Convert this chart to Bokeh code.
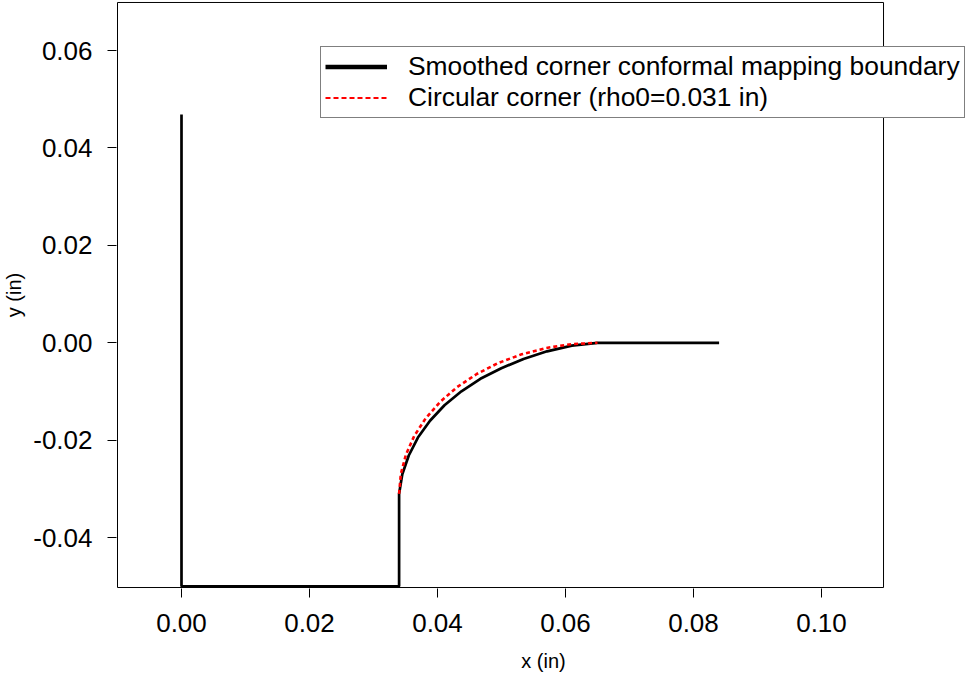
from bokeh.plotting import figure
from bokeh.models import Range1d, FixedTicker, Legend, LegendItem
from bokeh.embed import file_html
from bokeh.resources import INLINE

# Smoothed corner conformal mapping boundary (x, y in inches)
boundary_x = [0.0, 0.0, 0.034, 0.034, 0.03450, 0.03551, 0.03694, 0.03883, 0.04109,
              0.04374, 0.04670, 0.04997, 0.05344, 0.05712, 0.06098, 0.065, 0.084]
boundary_y = [0.0469, -0.05, -0.05, -0.031, -0.02699, -0.02314, -0.01945, -0.01601,
              -0.01282, -0.00995, -0.00739, -0.00522, -0.00331, -0.00175, -0.00058, 0.0, 0.0]

# Circular corner (rho0 = 0.031 in)
circle_x = [0.03400, 0.03427, 0.03506, 0.03636, 0.03815, 0.04041, 0.04308,
            0.04613, 0.04950, 0.05314, 0.05698, 0.06095, 0.06500]
circle_y = [-0.03100, -0.02695, -0.02298, -0.01914, -0.01550, -0.01213, -0.00908,
            -0.00641, -0.00415, -0.00236, -0.00106, -0.00027, 0.00000]

x_ticks = [0.0, 0.02, 0.04, 0.06, 0.08, 0.10]
x_tick_labels = ["0.00", "0.02", "0.04", "0.06", "0.08", "0.10"]
y_ticks = [-0.04, -0.02, 0.0, 0.02, 0.04, 0.06]
y_tick_labels = ["-0.04", "-0.02", "0.00", "0.02", "0.04", "0.06"]

# plot box limits (data units)
box_x = [-0.01, 0.10969]
box_y = [-0.05025, 0.06988]

label_black = "Smoothed corner conformal mapping boundary"
label_red = "Circular corner (rho0=0.031 in)"

FONT = "Liberation Sans"

p = figure(width=972, height=676, output_backend="svg", toolbar_location=None,
           x_range=Range1d(-0.0101563, 0.1232813), y_range=Range1d(-0.0504517, 0.0700821),
           min_border_left=116, min_border_right=2, min_border_top=1,
           min_border_bottom=88)
p.grid.visible = False
p.outline_line_color = None
p.background_fill_color = "white"
p.border_fill_color = "white"

# box around the plotting region
p.line([box_x[0], box_x[1], box_x[1], box_x[0], box_x[0]],
       [box_y[0], box_y[0], box_y[1], box_y[1], box_y[0]],
       line_color="black", line_width=1)

p.line(boundary_x, boundary_y, line_color="black", line_width=2.7)
p.line(circle_x, circle_y, line_color="red", line_width=2.6, line_dash="4 3")

# legend-only glyphs (placed outside the visible ranges)
leg_black = p.line([1.0, 2.0], [1.0, 1.0], line_color="black", line_width=4.5)
leg_red = p.line([1.0, 2.0], [1.0, 1.0], line_color="red", line_width=2, line_dash="5 3")

for ax, ticks, labels in ((p.xaxis[0], x_ticks, x_tick_labels), (p.yaxis[0], y_ticks, y_tick_labels)):
    ax.ticker = FixedTicker(ticks=ticks)
    ax.major_label_overrides = {t: l for t, l in zip(ticks, labels)}
    ax.axis_line_color = None
    ax.major_tick_line_color = "black"
    ax.major_tick_out = 9
    ax.major_tick_in = 0
    ax.minor_tick_line_color = None
    ax.major_label_text_font = FONT
    ax.major_label_text_font_size = "26px"
    ax.major_label_text_color = "black"
    ax.axis_label_text_font = FONT
    ax.axis_label_text_font_size = "20px"
    ax.axis_label_text_font_style = "normal"
    ax.axis_label_text_color = "black"

p.xaxis.axis_label = "x (in)"
p.yaxis.axis_label = "y (in)"
p.xaxis.major_label_standoff = 16
p.xaxis.axis_label_standoff = 15
p.yaxis.major_label_standoff = 15
p.yaxis.axis_label_standoff = 5

legend = Legend(items=[LegendItem(label=label_black, renderers=[leg_black]),
                       LegendItem(label=label_red, renderers=[leg_red])],
                location=(204, 470))
legend.border_line_color = "black"
legend.border_line_width = 1
legend.background_fill_color = "white"
legend.background_fill_alpha = 1
legend.label_text_font = FONT
legend.label_text_font_size = "26.4px"
legend.label_text_color = "black"
legend.glyph_width = 62
legend.glyph_height = 31
legend.label_height = 31
legend.label_standoff = 21
legend.padding = 4
legend.spacing = 0
legend.margin = 0
p.add_layout(legend)

open("out.html", "w").write(file_html(p, INLINE))
